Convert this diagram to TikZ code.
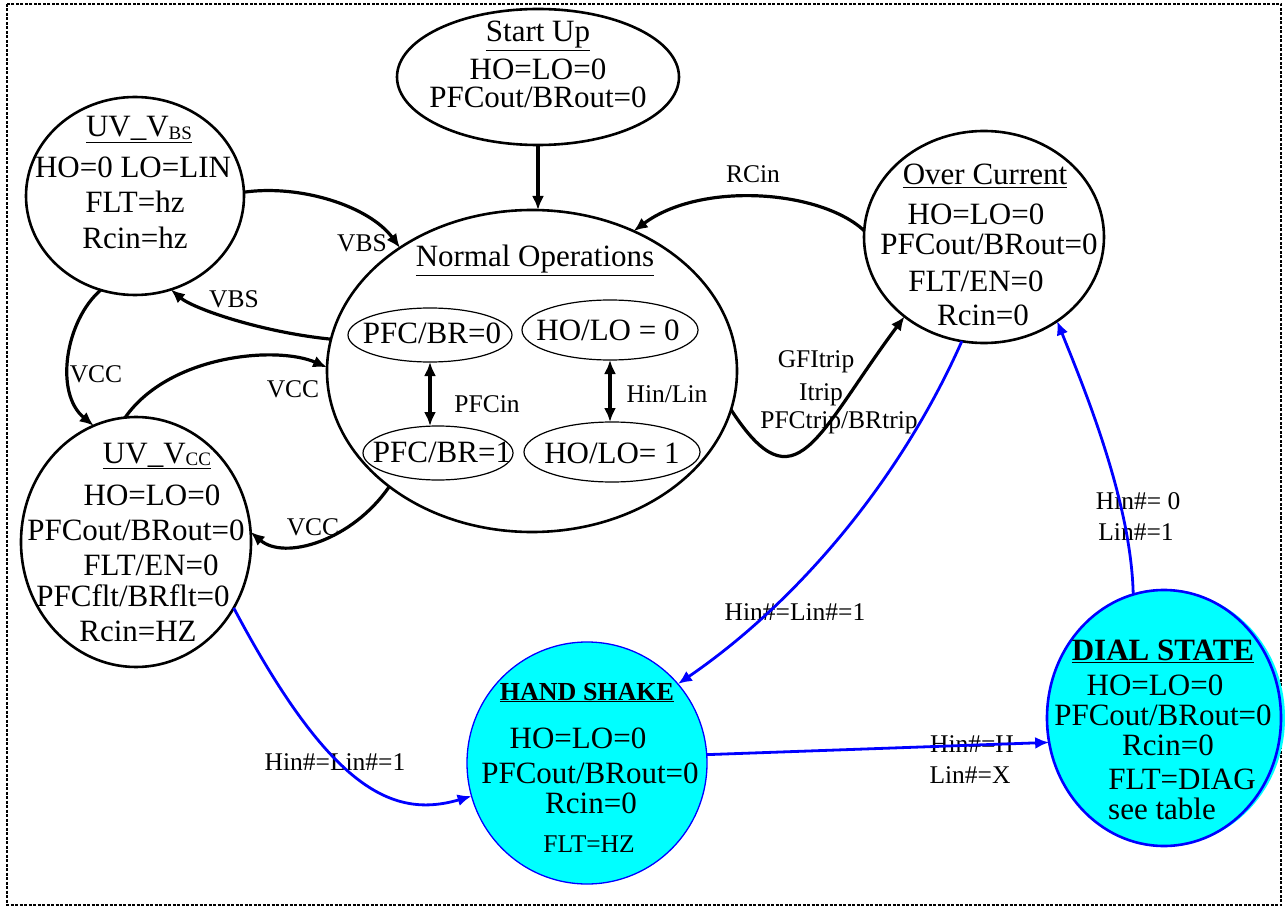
\documentclass[tikz,border=0pt]{standalone}
\usepackage{fontspec}
\setmainfont{Liberation Serif}
\usetikzlibrary{shapes.geometric,arrows.meta}
\definecolor{cyanfill}{RGB}{0,255,255}
\definecolor{pureblue}{RGB}{0,0,255}
\tikzset{
  state/.style={draw,ellipse,line width=2.6pt,inner sep=0pt,outer sep=0pt},
  substate/.style={draw,ellipse,line width=1.2pt,inner sep=0pt,outer sep=0pt},
  cyanstate/.style={draw=pureblue,fill=cyanfill,ellipse,inner sep=0pt,outer sep=0pt},
  tx/.style={anchor=base,inner sep=0pt,font=\fontsize{31}{33}\selectfont},
  lb/.style={anchor=base,inner sep=0pt,font=\fontsize{25.5}{28}\selectfont},
  arrowline/.style={line width=3.2pt,-{Latex[length=14pt,width=12pt]}},
  darrowline/.style={line width=3.2pt,{Latex[length=14pt,width=12pt]}-{Latex[length=14pt,width=12pt]}},
  bluearrow/.style={line width=2.8pt,draw=pureblue,-{Latex[length=14pt,width=12pt]}},
}
\begin{document}
\begin{tikzpicture}[x=1pt,y=-1pt]
\useasboundingbox (0,0) rectangle (1285,909);
\draw[line width=1.5pt,dash pattern=on 3pt off 1.5pt] (7,4) rectangle (1281,905);

% states
\node[state,minimum width=282pt,minimum height=136pt] (su) at (538,77) {};
\node[state,minimum width=218pt,minimum height=198pt] (vbs) at (135,196) {};
\node[state,minimum width=410pt,minimum height=322pt] (nops) at (532,371) {};
\node[state,minimum width=240pt,minimum height=212pt] (oc) at (984,237) {};
\node[state,minimum width=230pt,minimum height=250pt] (vcc) at (136,542) {};
\node[cyanstate,line width=1.3pt,minimum width=240pt,minimum height=242pt] (hs) at (587,763) {};
\node[ellipse,fill=cyanfill,inner sep=0pt,minimum width=234pt,minimum height=254pt] (dsshade) at (1168,718) {};
\node[cyanstate,line width=2.6pt,minimum width=234pt,minimum height=256pt] (ds) at (1164,718) {};

\node[substate,minimum width=164pt,minimum height=54pt] (pfc0) at (430,335) {};
\node[substate,minimum width=176pt,minimum height=60pt] (ho0) at (610,330) {};
\node[substate,minimum width=150pt,minimum height=54pt] (pfc1) at (438,453) {};
\node[substate,minimum width=176pt,minimum height=60pt] (ho1) at (612,452) {};

% Start Up text
\node[tx] (suT) at (538,42) {\underline{Start Up}};
\node[tx] (su1) at (538,80) {HO=LO=0};
\node[tx] (su2) at (538,108) {PFCout/BRout=0};

% UV_VBS text
\node[tx] (vbsT) at (139,137) {\underline{UV\_V\raisebox{-3pt}{\fontsize{19}{19}\selectfont BS}}};
\node[tx] (vbs1) at (133,178) {HO=0 LO=LIN};
\node[tx] (vbs2) at (135,213) {FLT=hz};
\node[tx] (vbs3) at (135,249) {Rcin=hz};

% Normal operations text
\node[tx] (nopsT) at (535,267) {\underline{Normal Operations}};
\node[tx] (pfc0T) at (432,343) {PFC/BR=0};
\node[tx] (ho0T) at (608,340) {HO/LO = 0};
\node[tx] (pfc1T) at (442,462) {PFC/BR=1};
\node[tx] (ho1T) at (612,463) {HO/LO= 1};
\node[lb] (lpfcin) at (487,412) {PFCin};
\node[lb] (lhinlin) at (667,402) {Hin/Lin};

% Over current text
\node[tx] (ocT) at (985,185) {\underline{Over Current}};
\node[tx] (oc1) at (976,225) {HO=LO=0};
\node[tx] (oc2) at (989,255) {PFCout/BRout=0};
\node[tx] (oc3) at (976,291) {FLT/EN=0};
\node[tx] (oc4) at (983,325) {Rcin=0};
\node[lb] (lrcin) at (753,183) {RCin};
\node[lb] (lgf) at (816,367) {GFItrip};
\node[lb] (litrip) at (821,400) {Itrip};
\node[lb] (lpfctrip) at (839,428) {PFCtrip/BRtrip};

% UV_VCC text
\node[tx] (vccT) at (157,463) {\underline{UV\_V\raisebox{-2pt}{\fontsize{19}{19}\selectfont CC}}};
\node[tx] (vcc1) at (152,505) {HO=LO=0};
\node[tx] (vcc2) at (136,540) {PFCout/BRout=0};
\node[tx] (vcc3) at (151,575) {FLT/EN=0};
\node[tx] (vcc4) at (133,606) {PFCflt/BRflt=0};
\node[tx] (vcc5) at (138,641) {Rcin=HZ};

% left labels
\node[lb] (lvbs1) at (362,252) {VBS};
\node[lb] (lvbs2) at (234,308) {VBS};
\node[lb] (lvcc1) at (96,382) {VCC};
\node[lb] (lvcc2) at (293,397) {VCC};
\node[lb] (lvcc3) at (313,535) {VCC};

% Hand shake text
\node[anchor=base,inner sep=0pt,font=\fontsize{26}{28}\selectfont\bfseries] (hsT) at (587,700) {\underline{HAND SHAKE}};
\node[tx] (hs1) at (578,748) {HO=LO=0};
\node[tx] (hs2) at (590,783) {PFCout/BRout=0};
\node[tx] (hs3) at (591,813) {Rcin=0};
\node[lb] (hs4) at (589,852) {FLT=HZ};
\node[lb] (lhs1) at (795,620) {Hin\#=Lin\#=1};
\node[lb] (lhs2) at (335,770) {Hin\#=Lin\#=1};

% Dial state text
\node[tx,font=\fontsize{31}{33}\selectfont\bfseries] (dsT) at (1163,660) {\underline{DIAL STATE}};
\node[tx] (ds1) at (1155,695) {HO=LO=0};
\node[tx] (ds2) at (1163,725) {PFCout/BRout=0};
\node[tx] (ds3) at (1168,755) {Rcin=0};
\node[tx] (ds4) at (1182,789) {FLT=DIAG};
\node[tx] (ds5) at (1162,819) {see table};
\node[lb] (lds1) at (972,752) {Hin\#=H};
\node[lb] (lds2) at (970,783) {Lin\#=X};
\node[lb] (lds3) at (1138,509) {Hin\#= 0};
\node[lb] (lds4) at (1136,540) {Lin\#=1};

% black connectors
\draw[arrowline] (su.south) -- (su.south |- nops.north);
\draw[arrowline] (vbs.2) .. controls +(56,-8) and +(-31,-42) .. (nops.137);
\draw[arrowline] (nops.171) .. controls +(-70,-7) and +(22,19) .. (vbs.-69);
\draw[arrowline] (vbs.-110) .. controls +(-35,30) and +(-40,-33) .. (vcc.110);
\draw[arrowline] (vcc.95) .. controls +(44,-63) and +(-50,-22) .. (nops.179);
\draw[arrowline] (nops.-141) .. controls +(-37,54) and +(34,29) .. (vcc.5);
\draw[arrowline] (oc.177) .. controls +(-44,-41) and +(67,-50) .. (nops.54);
\draw[arrowline] (nops.-11) .. controls +(65,100) and +(-88,118) .. (oc.-135);
\draw[darrowline] (pfc0.south) -- (pfc0.south |- pfc1.north);
\draw[darrowline] (ho0.south) -- (ho0.south |- ho1.north);

% blue connectors
\draw[bluearrow] (oc.-102) .. controls +(-63,142) and +(117,-80) .. (hs.41);
\draw[bluearrow] (vcc.-34) .. controls +(97,183) and +(-78,23) .. (hs.196);
\draw[bluearrow] (ds.104) .. controls +(-2,-93) and +(27,67) .. (oc.-49);
\draw[bluearrow] (hs.4) -- (ds.192);
\end{tikzpicture}
\end{document}
